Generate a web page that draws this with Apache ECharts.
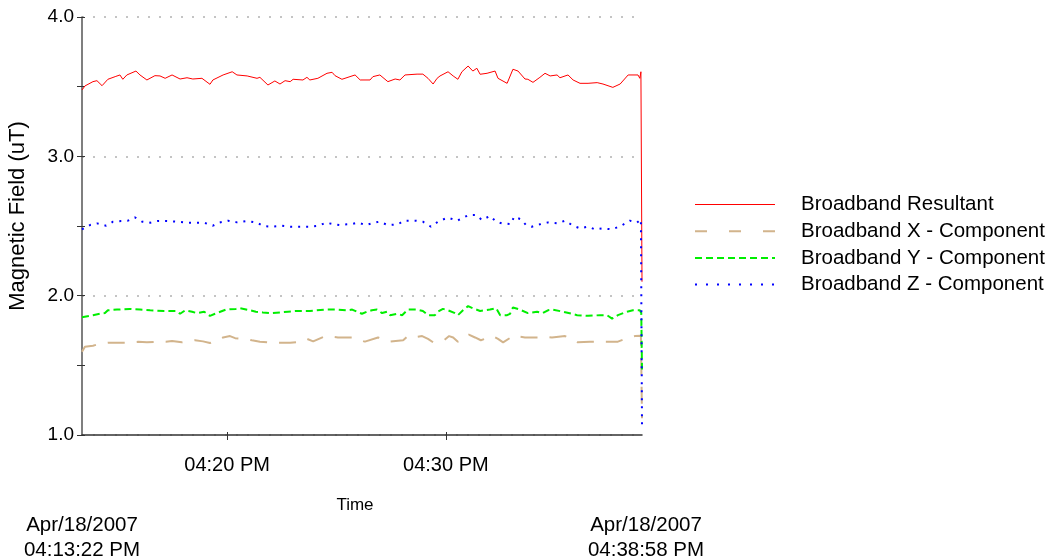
<!DOCTYPE html>
<html><head><meta charset="utf-8">
<script src="https://cdn.jsdelivr.net/npm/echarts@6/dist/echarts.min.js"></script>
<style>html,body{margin:0;padding:0;background:#fff}#c{width:1053px;height:559px}</style>
</head><body><div id="c"></div>
<script>
// Time values are seconds after 04:00:00 PM, Apr/18/2007
const seriesNames = ['Broadband Resultant', 'Broadband X - Component', 'Broadband Y - Component', 'Broadband Z - Component'];
const timeStart = 802;   // 04:13:22 PM
const timeEnd = 2338;    // 04:38:58 PM
const xTickSeconds = [1200, 1800];   // 04:20 PM, 04:30 PM
const yTickValues = [1.0, 2.0, 3.0, 4.0];
const startLabel = ['Apr/18/2007', '04:13:22 PM'];
const endLabel = ['Apr/18/2007', '04:38:58 PM'];
const xAxisTitle = 'Time';
const yAxisTitle = 'Magnetic Field (uT)';

const resultantTime = [802,810,832,843,857,873,893,906,914,925,950,961,980,1002,1016,1030,1049,1071,1090,1106,1131,1153,1161,1189,1214,1227,1255,1282,1290,1312,1331,1345,1359,1373,1381,1408,1419,1427,1449,1474,1488,1496,1515,1537,1551,1565,1570,1592,1600,1619,1641,1661,1674,1688,1721,1737,1751,1765,1776,1784,1806,1820,1833,1844,1861,1874,1885,1894,1913,1935,1943,1968,1984,1998,2017,2025,2039,2058,2072,2086,2105,2113,2135,2149,2168,2190,2215,2231,2258,2278,2300,2327,2332,2335,2338];
const resultantVal = [3.476,3.505,3.536,3.543,3.507,3.553,3.572,3.584,3.553,3.584,3.612,3.584,3.548,3.579,3.577,3.56,3.584,3.555,3.564,3.555,3.56,3.517,3.548,3.584,3.607,3.584,3.577,3.56,3.567,3.512,3.541,3.519,3.543,3.536,3.553,3.548,3.567,3.548,3.56,3.596,3.603,3.579,3.553,3.572,3.584,3.548,3.536,3.548,3.572,3.584,3.536,3.555,3.548,3.584,3.59,3.59,3.56,3.519,3.56,3.577,3.607,3.577,3.553,3.607,3.648,3.612,3.632,3.589,3.596,3.612,3.56,3.524,3.625,3.612,3.555,3.553,3.531,3.567,3.596,3.577,3.584,3.564,3.584,3.548,3.524,3.524,3.529,3.519,3.495,3.519,3.584,3.584,3.56,3.607,2.10];

const xCompTime = [802,810,832,851,873,920,956,980,1005,1032,1049,1076,1112,1134,1153,1189,1208,1222,1249,1268,1290,1323,1373,1403,1419,1436,1469,1488,1504,1543,1559,1578,1614,1630,1647,1683,1696,1710,1735,1751,1765,1795,1809,1820,1833,1863,1880,1896,1929,1943,1957,1987,2003,2017,2053,2072,2091,2127,2146,2162,2195,2242,2272,2297,2319,2335,2338];
const xCompVal = [1.598,1.634,1.641,1.655,1.662,1.662,1.669,1.665,1.669,1.67,1.675,1.665,1.68,1.672,1.66,1.70,1.71,1.695,1.69,1.68,1.67,1.662,1.662,1.67,1.69,1.672,1.71,1.705,1.70,1.70,1.685,1.67,1.70,1.685,1.67,1.68,1.71,1.70,1.71,1.69,1.665,1.68,1.71,1.70,1.67,1.72,1.70,1.68,1.71,1.69,1.665,1.715,1.705,1.70,1.70,1.705,1.70,1.71,1.69,1.665,1.669,1.669,1.67,1.695,1.71,1.712,1.12];

const yCompTime = [802,832,851,865,873,898,933,961,989,1027,1060,1071,1085,1104,1117,1137,1153,1167,1197,1224,1235,1263,1279,1298,1318,1345,1367,1389,1427,1469,1504,1529,1543,1556,1570,1584,1597,1611,1625,1639,1647,1666,1680,1696,1721,1737,1751,1770,1778,1792,1806,1825,1833,1847,1861,1874,1894,1921,1938,1949,1968,1976,1984,2003,2025,2050,2066,2080,2094,2121,2146,2160,2190,2223,2242,2256,2272,2297,2313,2332,2336,2338];
const yCompVal = [1.845,1.86,1.87,1.875,1.895,1.90,1.905,1.90,1.895,1.89,1.89,1.87,1.895,1.885,1.875,1.885,1.855,1.87,1.90,1.905,1.91,1.895,1.885,1.88,1.875,1.88,1.885,1.89,1.89,1.90,1.90,1.895,1.90,1.885,1.87,1.885,1.895,1.90,1.875,1.885,1.86,1.87,1.86,1.90,1.90,1.89,1.86,1.86,1.885,1.905,1.895,1.875,1.86,1.895,1.925,1.91,1.89,1.90,1.91,1.86,1.86,1.87,1.915,1.90,1.875,1.885,1.875,1.895,1.90,1.885,1.87,1.86,1.855,1.86,1.86,1.835,1.86,1.885,1.895,1.895,1.875,1.47];

const zCompTime = [802,824,843,868,887,909,928,947,967,989,1010,1032,1063,1087,1112,1137,1161,1178,1202,1227,1255,1282,1298,1323,1348,1373,1400,1427,1452,1471,1490,1510,1529,1543,1559,1581,1597,1617,1641,1669,1685,1718,1737,1759,1781,1806,1831,1844,1863,1883,1899,1921,1938,1954,1979,1987,2006,2020,2036,2058,2080,2105,2127,2149,2168,2190,2209,2228,2256,2280,2305,2324,2335,2338];
const zCompVal = [2.476,2.507,2.519,2.502,2.531,2.536,2.538,2.562,2.531,2.524,2.536,2.536,2.531,2.524,2.524,2.524,2.502,2.524,2.538,2.526,2.536,2.524,2.50,2.495,2.502,2.495,2.495,2.495,2.502,2.524,2.514,2.507,2.512,2.514,2.524,2.507,2.519,2.531,2.507,2.512,2.538,2.538,2.531,2.495,2.536,2.56,2.538,2.555,2.579,2.579,2.543,2.572,2.531,2.519,2.514,2.567,2.548,2.507,2.495,2.512,2.526,2.519,2.538,2.502,2.483,2.495,2.476,2.483,2.476,2.50,2.538,2.524,2.548,1.07];

const FONT = '"Liberation Sans", Arial, sans-serif';
function zip(t, v) { return t.map((s, i) => [s, v[i]]); }
function fmtTime(s) {
  const m = Math.floor(s / 60);
  return '04:' + String(m).padStart(2, '0') + ' PM';
}

const G = { left: 82, top: 17, right: 411, bottom: 124 };

const lineDefs = [
  { color: '#ff0000', width: 1, type: 'solid', legendType: null },
  { color: '#d2b48c', width: 2, type: [17, 12], legendType: [12, 22] },
  { color: '#00ee00', width: 2, type: [7, 4], legendType: [7, 4] },
  { color: '#0000ff', width: 2, type: [2, 6], legendType: [2, 9] }
];
const seriesData = [zip(resultantTime, resultantVal), zip(xCompTime, xCompVal), zip(yCompTime, yCompVal), zip(zCompTime, zCompVal)];

const chart = echarts.init(document.getElementById('c'), null, { renderer: 'canvas' });
const txt = { fontFamily: FONT, fontSize: 19, color: '#000' };

function textEl(t, x, y, size, rot) {
  const el = { type: 'text', x: x, y: y, style: { text: t, align: 'center', verticalAlign: 'middle', font: size + 'px ' + FONT, fill: '#000' } };
  if (rot) el.rotation = rot;
  return el;
}
const graphics = [];
startLabel.forEach((t, i) => graphics.push(textEl(t, 82, 525 + i * 25, 20.5)));
endLabel.forEach((t, i) => graphics.push(textEl(t, 646, 525 + i * 25, 20.5)));
graphics.push(textEl(xAxisTitle, 355, 505, 17));
graphics.push(textEl(yAxisTitle, 18, 216, 22, Math.PI / 2));

const transparent = 'rgba(0,0,0,0)';

chart.setOption({
  animation: false,
  backgroundColor: '#fff',
  grid: G,
  legend: {
    orient: 'vertical', left: 689, top: 189,
    itemWidth: 80, itemHeight: 20, itemGap: 5.7,
    textStyle: Object.assign({}, txt, { fontSize: 20.5, padding: [0, 0, 0, 21], lineHeight: 20 }),
    data: seriesNames.map((n, i) => {
      const ls = { width: lineDefs[i].width, color: lineDefs[i].color };
      if (lineDefs[i].legendType) ls.type = lineDefs[i].legendType;
      return {
        name: n,
        itemStyle: { color: transparent, borderColor: transparent, borderWidth: 0 },
        lineStyle: ls
      };
    })
  },
  xAxis: [{
    type: 'value', min: timeStart, max: timeEnd,
    axisLine: { lineStyle: { color: '#333', width: 1.5 } },
    axisTick: { show: true, length: 5, customValues: xTickSeconds, lineStyle: { color: '#333' } },
    axisLabel: Object.assign({ customValues: xTickSeconds, formatter: fmtTime, margin: 20 }, txt, { fontSize: 20 }),
    splitLine: { show: false }
  }, {
    type: 'value', min: timeStart, max: timeEnd, position: 'bottom', gridIndex: 0,
    axisLine: { show: false },
    axisTick: { show: true, inside: true, length: 3, customValues: xTickSeconds, lineStyle: { color: '#333' } },
    axisLabel: { show: false }, splitLine: { show: false }
  }],
  yAxis: [{
    type: 'value', min: 1, max: 4, interval: 1,
    axisLine: { show: true, lineStyle: { color: '#555', width: 1.5 } },
    axisTick: { show: true, length: 5, lineStyle: { color: '#333' } },
    minorTick: { show: true, splitNumber: 2, length: 5, lineStyle: { color: '#333' } },
    axisLabel: Object.assign({ formatter: v => v.toFixed(1), margin: 8 }, txt),
    splitLine: { show: true, lineStyle: { color: '#c4c4c4', width: 2, type: [2, 9] } }
  }, {
    type: 'value', min: 1, max: 4, interval: 1, position: 'left',
    axisLine: { show: false },
    axisTick: { show: true, inside: true, length: 3, lineStyle: { color: '#333' } },
    minorTick: { show: true, splitNumber: 2, length: 3, lineStyle: { color: '#333' } },
    axisLabel: { show: false }, splitLine: { show: false }
  }],
  graphic: graphics,
  series: seriesNames.map((n, i) => ({
    name: n, type: 'line', xAxisIndex: 0, yAxisIndex: 0,
    symbol: 'none', showSymbol: false,
    data: seriesData[i],
    lineStyle: { color: lineDefs[i].color, width: lineDefs[i].width, type: lineDefs[i].type },
    itemStyle: { color: lineDefs[i].color }
  }))
});
</script>
</body></html>
